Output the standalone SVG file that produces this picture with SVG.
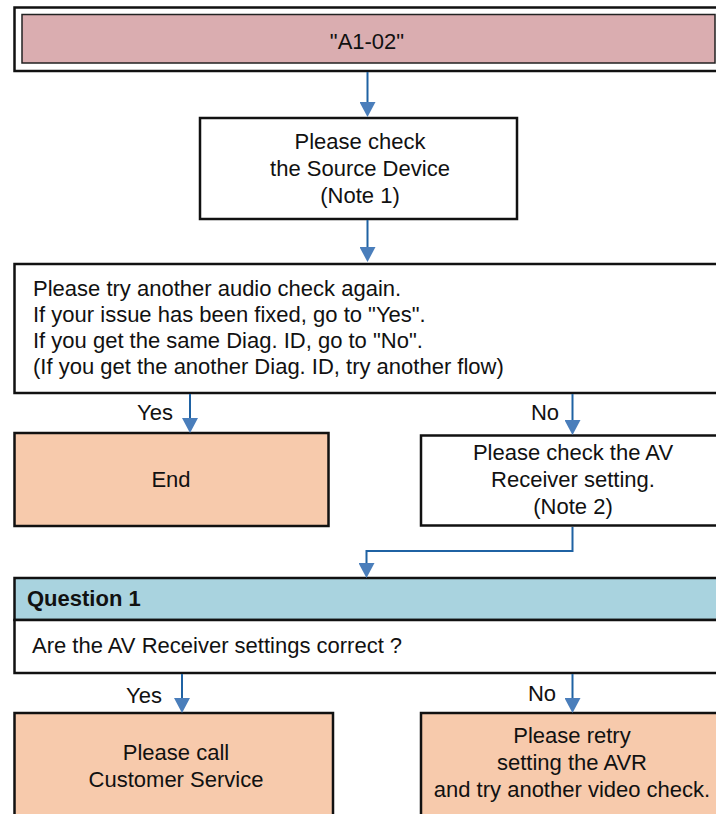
<svg xmlns="http://www.w3.org/2000/svg" width="716" height="814" viewBox="0 0 716 814">
<style>
text{font-family:"Liberation Sans",Arial,Helvetica,sans-serif;font-size:22px;fill:#111}
.c{text-anchor:middle}
.e{text-anchor:end}
.b{font-weight:bold}
.box{stroke:#111;stroke-width:2.5}
.w{fill:#fff}
.peach{fill:#F7CAAC}
.conn{fill:none;stroke:#1F62A3;stroke-width:2}
</style>
<defs>
<marker id="ah" markerUnits="userSpaceOnUse" markerWidth="16" markerHeight="16" refX="0" refY="8" orient="auto" viewBox="0 0 16 16">
<path d="M0,0 L15,8 L0,16 z" fill="#4A7EBB"/>
</marker>
</defs>
<rect width="716" height="814" fill="#fff"/>
<g id="start">
<rect class="box w" x="14.5" y="7.5" width="720" height="63.5"/>
<rect x="22" y="14.5" width="693" height="48.5" fill="#DAADB0" stroke="#222" stroke-width="1.5"/>
<text class="c" x="367" y="49">"A1-02"</text>
</g>
<g id="check-source">
<rect class="box w" x="200" y="118" width="317" height="101"/>
<text class="c" x="360" y="149">Please check</text>
<text class="c" x="360" y="176">the Source Device</text>
<text class="c" x="360" y="203">(Note 1)</text>
</g>
<g id="retry-audio">
<rect class="box w" x="14.5" y="264" width="720" height="129"/>
<text x="33" y="296">Please try another audio check again.</text>
<text x="33" y="322">If your issue has been fixed, go to "Yes".</text>
<text x="33" y="348">If you get the same Diag. ID, go to "No".</text>
<text x="33" y="374">(If you get the another Diag. ID, try another flow)</text>
</g>
<g id="end">
<rect class="box peach" x="14.5" y="433" width="314" height="93"/>
<text class="c" x="171" y="487">End</text>
</g>
<g id="check-avr">
<rect class="box w" x="421" y="435.5" width="310" height="90"/>
<text class="c" x="573" y="460">Please check the AV</text>
<text class="c" x="573" y="487">Receiver setting.</text>
<text class="c" x="573" y="514">(Note 2)</text>
</g>
<g id="question1">
<rect x="14.5" y="578" width="720" height="42" fill="#A9D3DF" stroke="#111" stroke-width="2.5"/>
<rect class="box w" x="14.5" y="620" width="720" height="53"/>
<text class="b" x="27" y="606">Question 1</text>
<text x="32" y="653">Are the AV Receiver settings correct ?</text>
</g>
<g id="call-service">
<rect class="box peach" x="14.5" y="713" width="318.5" height="110"/>
<text class="c" x="176" y="760">Please call</text>
<text class="c" x="176" y="787">Customer Service</text>
</g>
<g id="retry-avr">
<rect class="box peach" x="421" y="713" width="310" height="110"/>
<text class="c" x="572" y="743">Please retry</text>
<text class="c" x="572" y="770">setting the AVR</text>
<text class="c" x="572" y="797">and try another video check.</text>
</g>
<g id="connectors">
<path class="conn" d="M367.5,72 V102" marker-end="url(#ah)"/>
<path class="conn" d="M367.5,220 V247" marker-end="url(#ah)"/>
<path class="conn" d="M190,394 V418" marker-end="url(#ah)"/>
<path class="conn" d="M572.5,394 V420" marker-end="url(#ah)"/>
<path class="conn" d="M572.5,527 V551 H366.5 V563" marker-end="url(#ah)"/>
<path class="conn" d="M182,674 V698" marker-end="url(#ah)"/>
<path class="conn" d="M572.5,674 V698" marker-end="url(#ah)"/>
<text class="e" x="173" y="420">Yes</text>
<text class="e" x="559" y="420">No</text>
<text class="e" x="162" y="703">Yes</text>
<text class="e" x="556" y="701">No</text>
</g>
</svg>
